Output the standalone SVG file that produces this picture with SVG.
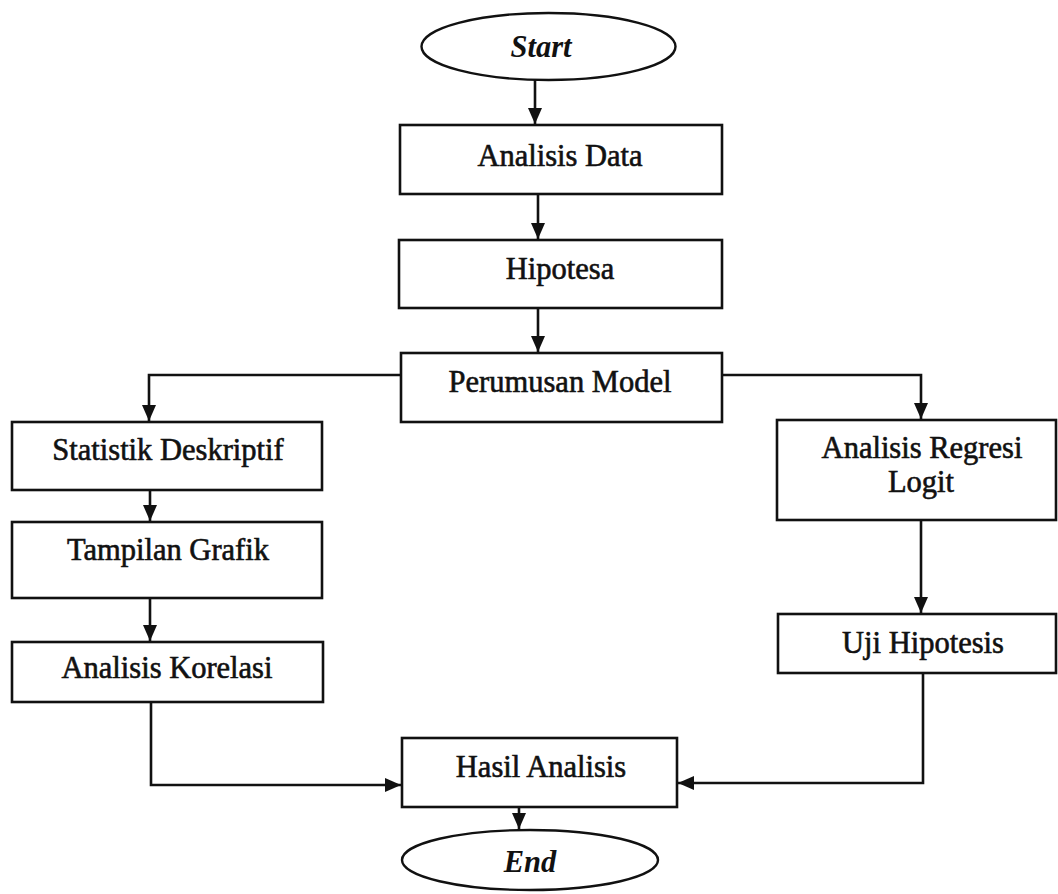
<svg xmlns="http://www.w3.org/2000/svg" width="1058" height="894" viewBox="0 0 1058 894">
<defs>
<marker id="ah" markerUnits="userSpaceOnUse" markerWidth="18" markerHeight="18" viewBox="0 0 18 18" refX="16" refY="9" orient="auto">
<path d="M0,2 L16,9 L0,16 Z" fill="#111"/>
</marker>
<style>
.box{fill:#fff;stroke:#111;stroke-width:2.6}
.el{fill:#fff;stroke:#111;stroke-width:2.4}
.c{fill:none;stroke:#111;stroke-width:2.6}
.t{font-family:"Liberation Serif","Times New Roman",serif;font-size:30.5px;fill:#111;stroke:#111;stroke-width:0.6;text-anchor:middle}
.i{font-style:italic;font-weight:bold;stroke-width:0}
</style>
</defs>
<rect width="1058" height="894" fill="#fff"/>
<g id="connectors">
<path class="c" d="M535,80 V124" marker-end="url(#ah)"/>
<path class="c" d="M538,194 V239" marker-end="url(#ah)"/>
<path class="c" d="M538,308 V352" marker-end="url(#ah)"/>
<path class="c" d="M400,375 H149 V421" marker-end="url(#ah)"/>
<path class="c" d="M722,375 H921 V419" marker-end="url(#ah)"/>
<path class="c" d="M150,490 V521" marker-end="url(#ah)"/>
<path class="c" d="M150,598 V641" marker-end="url(#ah)"/>
<path class="c" d="M921,520 V613" marker-end="url(#ah)"/>
<path class="c" d="M151,702 V785 H401" marker-end="url(#ah)"/>
<path class="c" d="M923,673 V783 H678" marker-end="url(#ah)"/>
<path class="c" d="M519,807 V829" marker-end="url(#ah)"/>
</g>
<g id="start">
<ellipse class="el" cx="548.5" cy="46.5" rx="127" ry="33.5"/>
<text class="t i" x="541" y="57">Start</text>
</g>
<g id="analisis-data">
<rect class="box" x="400" y="125" width="322" height="69"/>
<text class="t" x="560" y="166">Analisis Data</text>
</g>
<g id="hipotesa">
<rect class="box" x="399" y="240" width="323" height="68"/>
<text class="t" x="560" y="279">Hipotesa</text>
</g>
<g id="perumusan-model">
<rect class="box" x="401" y="353" width="321" height="69"/>
<text class="t" x="560" y="392">Perumusan Model</text>
</g>
<g id="statistik-deskriptif">
<rect class="box" x="12" y="422" width="310" height="68"/>
<text class="t" x="168" y="460">Statistik Deskriptif</text>
</g>
<g id="tampilan-grafik">
<rect class="box" x="12" y="522" width="310" height="76"/>
<text class="t" x="168" y="560">Tampilan Grafik</text>
</g>
<g id="analisis-korelasi">
<rect class="box" x="12" y="642" width="311" height="60"/>
<text class="t" x="167" y="678">Analisis Korelasi</text>
</g>
<g id="analisis-regresi-logit">
<rect class="box" x="777" y="420" width="279" height="100"/>
<text class="t" x="922" y="458">Analisis Regresi</text>
<text class="t" x="921" y="492">Logit</text>
</g>
<g id="uji-hipotesis">
<rect class="box" x="778" y="614" width="278" height="59"/>
<text class="t" x="923" y="653">Uji Hipotesis</text>
</g>
<g id="hasil-analisis">
<rect class="box" x="402" y="738" width="275" height="69"/>
<text class="t" x="541" y="777">Hasil Analisis</text>
</g>
<g id="end">
<ellipse class="el" cx="530" cy="860" rx="128" ry="30"/>
<text class="t i" x="530" y="872">End</text>
</g>
</svg>
